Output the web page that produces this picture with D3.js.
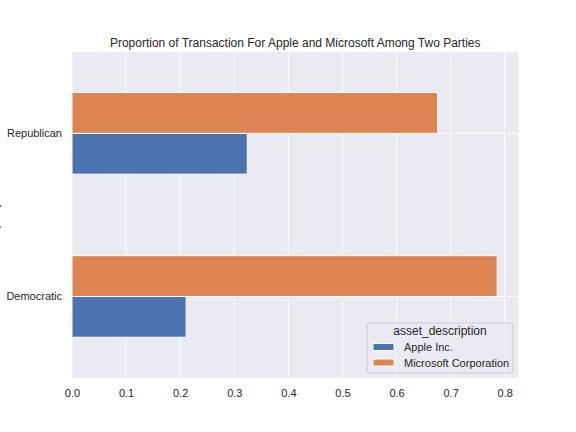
<!DOCTYPE html>
<html>
<head>
<meta charset="utf-8">
<script src="https://cdn.jsdelivr.net/npm/d3@7"></script>
<style>
  body { margin: 0; background: #fff; }
  svg { display: block; font-family: "Liberation Sans", Arial, sans-serif; }
</style>
</head>
<body>
<div id="chart"></div>
<script>
// data
var parties = ["Democratic", "Republican"];
var seriesNames = ["Apple Inc.", "Microsoft Corporation"];
var appleShare = [0.211, 0.324];
var microsoftShare = [0.786, 0.676];
var xTicks = [0, 0.1, 0.2, 0.3, 0.4, 0.5, 0.6, 0.7, 0.8];

var colors = ["#4c72b0", "#dd8452"];
var series = [appleShare, microsoftShare];

var W = 576, H = 432;
var margin = {left: 72, right: 576 - 518.4, top: 51.8, bottom: 432 - 378};

var svg = d3.select("#chart").append("svg")
    .attr("width", W).attr("height", H);

var x = d3.scaleLinear()
    .domain([0, d3.max(microsoftShare.concat(appleShare)) * 1.05])
    .range([margin.left, W - margin.right]);

// category positions as numeric index, pandas style
var y = d3.scaleLinear()
    .domain([-0.5, parties.length - 0.5])
    .range([H - margin.bottom, margin.top]);

svg.append("rect")
    .attr("x", margin.left).attr("y", margin.top)
    .attr("width", x.range()[1] - x.range()[0])
    .attr("height", y.range()[0] - y.range()[1])
    .attr("fill", "#eaeaf2");

// grid
svg.append("g").selectAll("line").data(xTicks).enter().append("line")
    .attr("x1", function(d) { return x(d); }).attr("x2", function(d) { return x(d); })
    .attr("y1", margin.top).attr("y2", H - margin.bottom)
    .attr("stroke", "#fff").attr("stroke-width", 1);
svg.append("g").selectAll("line").data(parties).enter().append("line")
    .attr("x1", margin.left).attr("x2", W - margin.right)
    .attr("y1", function(d, i) { return y(i); }).attr("y2", function(d, i) { return y(i); })
    .attr("stroke", "#fff").attr("stroke-width", 1);

// bars
var barW = 0.25;
series.forEach(function(vals, s) {
  svg.append("g").selectAll("rect").data(vals).enter().append("rect")
      .attr("x", x(0))
      .attr("y", function(d, i) { return y(i - 0.25 + barW * (s + 1)); })
      .attr("width", function(d) { return x(d) - x(0); })
      .attr("height", y(0) - y(barW))
      .attr("fill", colors[s])
      .attr("stroke", "#fff").attr("stroke-width", 1);
});

// x axis
var xAxis = svg.append("g")
    .attr("transform", "translate(0," + (H - margin.bottom) + ")")
    .call(d3.axisBottom(x).tickValues(xTicks).tickSize(0).tickPadding(11)
      .tickFormat(d3.format(".1f")));
xAxis.select(".domain").remove();
xAxis.selectAll("text").attr("font-size", 11).attr("fill", "#262626")
    .attr("font-family", "Liberation Sans, Arial, sans-serif");

// y axis
var yAxis = svg.append("g")
    .attr("transform", "translate(" + margin.left + ",0)")
    .call(d3.axisLeft(y).tickValues(d3.range(parties.length)).tickSize(0).tickPadding(10)
      .tickFormat(function(i) { return parties[i]; }));
yAxis.select(".domain").remove();
yAxis.selectAll("text").attr("font-size", 11).attr("fill", "#262626")
    .attr("font-family", "Liberation Sans, Arial, sans-serif");

// y label, mostly off the left edge
svg.append("text")
    .attr("transform", "translate(-1.8," + (margin.top + (y.range()[0] - y.range()[1]) / 2) + ") rotate(-90)")
    .attr("text-anchor", "middle")
    .attr("font-size", 12).attr("fill", "#262626")
    .text("party");

// title
svg.append("text")
    .attr("x", (x.range()[0] + x.range()[1]) / 2).attr("y", 46.5)
    .attr("text-anchor", "middle")
    .attr("font-size", 12).attr("fill", "#262626")
    .text("Proportion of Transaction For Apple and Microsoft Among Two Parties");

// legend
var lg = svg.append("g").attr("transform", "translate(367,323)");
lg.append("rect")
    .attr("width", 146).attr("height", 50).attr("rx", 3)
    .attr("fill", "#eaeaf2").attr("fill-opacity", 0.8)
    .attr("stroke", "#cccccc").attr("stroke-width", 1);
lg.append("text")
    .attr("x", 73).attr("y", 11.5)
    .attr("text-anchor", "middle").attr("font-size", 12).attr("fill", "#262626")
    .text("asset_description");
seriesNames.forEach(function(name, i) {
  lg.append("rect")
      .attr("x", 6).attr("y", 20.5 + i * 15.5)
      .attr("width", 21).attr("height", 7)
      .attr("fill", colors[i]).attr("stroke", "#fff").attr("stroke-width", 1);
  lg.append("text")
      .attr("x", 37).attr("y", 28 + i * 15.5)
      .attr("font-size", 11).attr("fill", "#262626")
      .text(name);
});
</script>
</body>
</html>
